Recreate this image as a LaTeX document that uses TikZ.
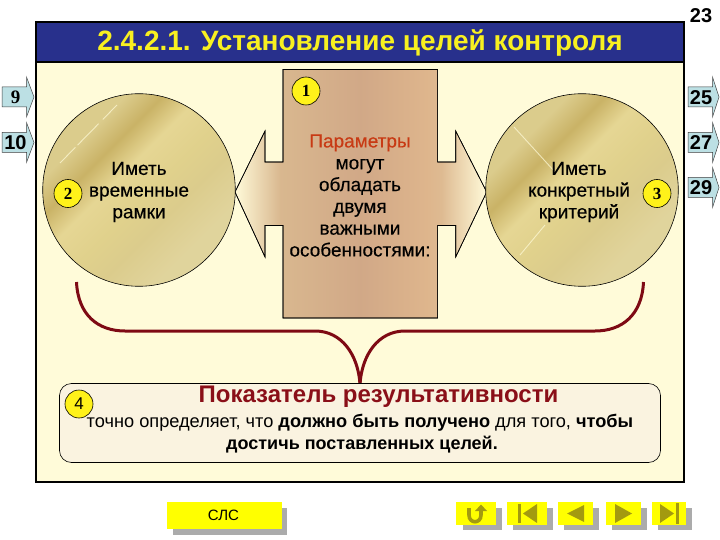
\documentclass[tikz,border=0pt]{standalone}
\usepackage{fontspec}
\setmainfont{Liberation Sans}
\newfontfamily\serifnum{Liberation Serif}
\usetikzlibrary{calc}
\definecolor{pagebg}{HTML}{FFFBD9}
\definecolor{titlebar}{HTML}{28308C}
\definecolor{titletext}{HTML}{F8F020}
\definecolor{navbox}{HTML}{BCE0E4}
\definecolor{badge}{HTML}{FFF21A}
\definecolor{darkred}{HTML}{7E0A14}
\definecolor{headred}{HTML}{8A0F18}
\definecolor{orangered}{HTML}{C83A14}
\definecolor{panelbg}{HTML}{FAF3E0}
\definecolor{btn}{HTML}{FFFF00}
\definecolor{btnshadow}{HTML}{ABABAB}
\definecolor{icon}{HTML}{A39A10}
\pgfdeclarehorizontalshading{tanbar}{100bp}{
  rgb(0bp)=(1,0.98,0.85);
  rgb(25bp)=(1,0.98,0.85);
  rgb(34bp)=(0.85,0.72,0.56);
  rgb(50bp)=(0.82,0.66,0.53);
  rgb(63bp)=(0.87,0.71,0.55);
  rgb(66bp)=(0.87,0.73,0.57);
  rgb(75bp)=(1,0.98,0.85);
  rgb(100bp)=(1,0.98,0.85)}
\pgfdeclarehorizontalshading{goldball}{100bp}{
  rgb(0bp)=(0.86,0.80,0.55);
  rgb(30bp)=(0.86,0.80,0.55);
  rgb(37bp)=(0.79,0.70,0.40);
  rgb(44bp)=(0.90,0.84,0.58);
  rgb(52bp)=(0.88,0.82,0.55);
  rgb(60bp)=(0.86,0.80,0.55);
  rgb(70bp)=(0.88,0.83,0.61);
  rgb(100bp)=(0.88,0.83,0.61)}
\tikzset{
  numbadge/.style={circle,draw=black,line width=0.6pt,fill=badge,minimum size=28pt,inner sep=0pt,font=\serifnum\bfseries\fontsize{17}{17}\selectfont},
  navnum/.style={font=\bfseries\fontsize{20}{20}\selectfont,inner sep=0pt,text=black},
  navshape/.style={draw=black!75,line width=0.5pt,fill=navbox},
  ball/.style={draw=black,line width=0.6pt,shading=goldball,shading angle=-45},
  balltext/.style={align=center,font=\addfontfeature{FakeBold=0.3}\fontsize{19}{21.7}\selectfont,text=black,inner sep=0pt},
  brace/.style={draw=darkred,line width=3pt},
  yellowbtn/.style={fill=btn,draw=none},
  shadowbtn/.style={fill=btnshadow,draw=none},
  glyph/.style={fill=icon,draw=none},
  streak/.style={draw=pagebg,line width=0.9pt,opacity=0.7}
}
\begin{document}
\begin{tikzpicture}[x=1pt,y=-1pt]
\useasboundingbox (0,0) rectangle (720,540);
\fill[white] (0,0) rectangle (720,540);
% frame
\fill[pagebg] (36,22) rectangle (684,482);
\fill[titlebar] (36,22) rectangle (684,62);
\draw[black,line width=1.6pt] (36,62) -- (684,62);
\draw[black,line width=1.8pt] (36,22) rectangle (684,482);
\node[inner sep=0pt,font=\bfseries\fontsize{28}{28}\selectfont,text=titletext] (title) at (360,43) {2.4.2.1. Установление целей контроля};
\node[inner sep=0pt,font=\bfseries\fontsize{20}{20}\selectfont] (pagenum) at (701,16) {23};
% central double arrow
\draw[black,line width=0.6pt,shading=tanbar] (235,192) -- (265,131) -- (265,162) -- (283,162) -- (283,69.5) -- (437.6,69.5) -- (437.6,162) -- (455.7,162) -- (455.7,131) -- (486.7,192) -- (455.7,257) -- (455.7,225.5) -- (437.6,225.5) -- (437.6,318) -- (283,318) -- (283,225.5) -- (265,225.5) -- (265,257) -- cycle;
\draw[black,line width=0.6pt] (235,192) -- (265,131) -- (265,162) -- (283,162) -- (283,69.5) -- (437.6,69.5) -- (437.6,162) -- (455.7,162) -- (455.7,131) -- (486.7,192) -- (455.7,257) -- (455.7,225.5) -- (437.6,225.5) -- (437.6,318) -- (283,318) -- (283,225.5) -- (265,225.5) -- (265,257) -- cycle;
% balls
\path[ball] (139,190) circle (96.3);
\path[ball] (582,190) circle (96.3);
\draw[streak,dash pattern=on 22pt off 3pt on 30pt off 6pt] (60,163) -- (117,105);
\draw[streak] (514,127) -- (555,172);
\draw[streak] (520,255) -- (545,225);
% texts
\node[balltext] (lefttext) at (139,192) {Иметь\\временные\\рамки};
\node[balltext] (righttext) at (579,192) {Иметь\\конкретный\\критерий};
\node[align=center,inner sep=0pt,font=\addfontfeature{FakeBold=0.3}\fontsize{19}{21.8}\selectfont] (centertext) at (360,195.5) {\textcolor{orangered}{Параметры}\\могут\\обладать\\двумя\\важными\\особенностями:};
% brace
\coordinate (bl) at (76.5,282);
\coordinate (br) at (643.5,282);
\coordinate (bm) at (360,384);
\draw[brace] (bl) .. controls (78,315) and (98,331) .. (125,331) -- (315,331) .. controls (342,331) and (358,355) .. (bm);
\draw[brace] (br) .. controls (642,315) and (622,331) .. (595,331) -- (405,331) .. controls (378,331) and (362,355) .. (bm);
% bottom panel
\draw[black,line width=0.6pt,fill=panelbg,rounded corners=12pt] (59.5,383.5) rectangle (660.5,462.5);
\node[inner sep=0pt,font=\bfseries\fontsize{24}{24}\selectfont,text=headred] (head) at (378.5,397) {Показатель результативности};
\node[inner sep=0pt,font=\fontsize{18.2}{18.2}\selectfont] (line1) at (360,423) {точно определяет, что \textbf{должно быть получено} для того, \textbf{чтобы}};
\node[inner sep=0pt,font=\bfseries\fontsize{18}{18}\selectfont] (line2) at (362,445) {достичь поставленных целей.};
% badges
\node[numbadge] (b1) at (306,91) {1};
\node[numbadge] (b2) at (68,193.5) {2};
\node[numbadge] (b3) at (657,193.5) {3};
\node[numbadge,font=\fontsize{17}{17}\selectfont] (b4) at (79,404) {4};
% side arrows
\foreach \yy in {97,142.5}{
  \draw[navshape] (2,\yy-10) -- (26.5,\yy-10) -- (26.5,\yy-20) -- (34,\yy) -- (26.5,\yy+20) -- (26.5,\yy+10) -- (2,\yy+10) -- cycle;
}
\node[navnum,font=\serifnum\bfseries\fontsize{19}{19}\selectfont] (n9) at (15.5,97) {9};
\node[navnum] (n10) at (15.5,142.5) {10};
\foreach \yy in {97,142.5,187.5}{
  \draw[navshape] (688,\yy-10) -- (712.5,\yy-10) -- (712.5,\yy-20) -- (719,\yy) -- (712.5,\yy+20) -- (712.5,\yy+10) -- (688,\yy+10) -- cycle;
}
\node[navnum] (n25) at (701,97.5) {25};
\node[navnum] (n27) at (701,142.5) {27};
\node[navnum] (n29) at (701,187.5) {29};
% buttons
\fill[shadowbtn] (173,508) rectangle (287,535);
\fill[yellowbtn] (167,502) rectangle (281.5,528.5);
\node[inner sep=0pt,font=\fontsize{15}{15}\selectfont] (sls) at (223.5,515.5) {СЛС};
\fill[shadowbtn] (463,508) rectangle (502,530);
\fill[yellowbtn] (456,502) rectangle (496,525);
\fill[shadowbtn] (513,508) rectangle (553,530);
\fill[yellowbtn] (507,502) rectangle (547,525);
\fill[shadowbtn] (564,508) rectangle (599,530);
\fill[yellowbtn] (558,502) rectangle (593,525);
\fill[shadowbtn] (612,508) rectangle (647,530);
\fill[yellowbtn] (606,502) rectangle (641,525);
\fill[shadowbtn] (658,508) rectangle (692,530);
\fill[yellowbtn] (652,502) rectangle (686,525);
% icons
\draw[icon,line width=3.6pt] (469,508) -- (469,515) .. controls (469,524) and (481,524) .. (481,515) -- (481,510);
\fill[glyph] (475,511) -- (481,504.5) -- (487,511) -- cycle;
\fill[glyph] (518,504) rectangle (521,523);
\fill[glyph] (523,513.5) -- (537,504) -- (537,523) -- cycle;
\fill[glyph] (567,513.5) -- (584,505) -- (584,522) -- cycle;
\fill[glyph] (615,504) -- (632,513.5) -- (615,523) -- cycle;
\fill[glyph] (660,504) -- (674,513.5) -- (660,523) -- cycle;
\fill[glyph] (676,503) rectangle (679,524);
\end{tikzpicture}
\end{document}
